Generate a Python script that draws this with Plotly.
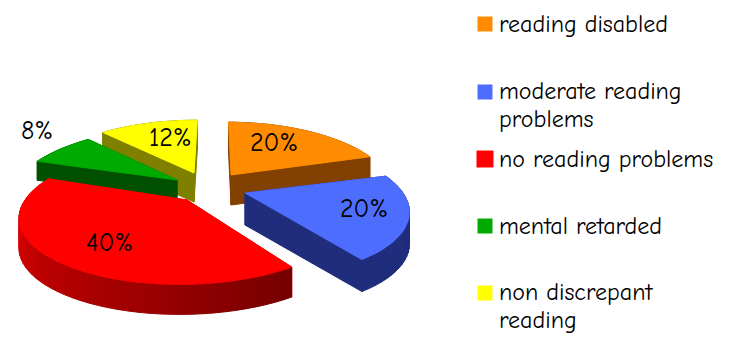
import math
import plotly.graph_objects as go

# ---- data ----
categories = ["reading disabled", "moderate reading<br>problems", "no reading problems",
              "mental retarded", "non discrepant<br>reading"]
values = [20, 20, 40, 8, 12]
labels = ["20%", "20%", "40%", "8%", "12%"]

# ---- styles ----
top_colors = ["#ff8c00", "#4d6dff", "#ff0000", "#00aa00", "#ffff00"]
edge_colors = ["#824100", "#1f2d7c", "#e00000", "#005000", "#808000"]   # radial wall
arc_far = ["#824100", "#1f2d7c", "#760000", "#005000", "#808000"]       # arc wall at the slice's start
arc_near = ["#824100", "#1f2d7c", "#f40000", "#005000", "#808000"]      # arc wall at the slice's end
apex_x = [231, 245, 187, 177, 194]
apex_y = [175, 193, 200, 180, 173]
depths = [30, 32, 30, 19, 29]
radius_x = [157, 158, 162, 160, 160]
slice_rot = [0.5, 2.0, 2.5, 0.0, 0.0]
label_x = [274, 364, 109, 37, 170]
label_y = [143, 209, 243, 131, 138]
legend_y = [24, 92, 159, 226, 293]
legend_text_y = [26, 93, 161, 228, 294]
legend_size = [15, 15, 17, 15, 15]
draw_order = [0, 4, 3, 2, 1]
LINE_GAP = 28

FONT = "Comic Sans MS, Comic Neue, DejaVu Sans"
B, K, VX = 65.0, 0.23, 212.0


def project(theta_deg, ax, ay, a):
    t = math.radians(theta_deg)
    X, Y = math.sin(t), math.cos(t)
    w = 1 + K * Y
    return ax + a * X / w + (VX - ax) * (1 - 1 / w), ay - B * Y / w


def hex_mix(c1, c2, f):
    a = [int(c1[i:i + 2], 16) for i in (1, 3, 5)]
    b = [int(c2[i:i + 2], 16) for i in (1, 3, 5)]
    return "#%02x%02x%02x" % tuple(round(p + (q - p) * f) for p, q in zip(a, b))


def poly(xs, ys, color):
    return go.Scatter(x=xs + xs[:1], y=ys + ys[:1], mode="lines", fill="toself",
                      fillcolor=color, line=dict(color=color, width=1),
                      hoverinfo="skip", showlegend=False)


total = sum(values)
starts, acc = [], 0.0
for v in values:
    starts.append(acc)
    acc += v / total * 360

fig = go.Figure()
for i in draw_order:
    a0 = starts[i] + slice_rot[i]
    a1 = a0 + values[i] / total * 360
    ax, ay, d = apex_x[i], apex_y[i], depths[i]
    n = max(4, int((a1 - a0) / 3))
    arc = [project(a0 + (a1 - a0) * k / n, ax, ay, radius_x[i]) for k in range(n + 1)]

    # walls: radial edges first, then the outer arc strip by strip
    for p, q in (((ax, ay), arc[0]), (arc[-1], (ax, ay))):
        fig.add_trace(poly([p[0], q[0], q[0], p[0]], [p[1], q[1], q[1] + d, p[1] + d], edge_colors[i]))
    for k in range(n):
        p, q = arc[k], arc[k + 1]
        fig.add_trace(poly([p[0], q[0], q[0], p[0]], [p[1], q[1], q[1] + d, p[1] + d],
                           hex_mix(arc_far[i], arc_near[i], k / max(1, n - 1))))
    # top face
    fig.add_trace(poly([ax] + [p[0] for p in arc], [ay] + [p[1] for p in arc], top_colors[i]))

# legend swatches and texts
for i in range(len(categories)):
    fig.add_trace(go.Scatter(x=[485], y=[legend_y[i]], mode="markers",
                             marker=dict(symbol="square", size=legend_size[i], color=top_colors[i]),
                             hoverinfo="skip", showlegend=False))
    for j, line in enumerate(categories[i].split("<br>")):
        fig.add_trace(go.Scatter(x=[499], y=[legend_text_y[i] + j * LINE_GAP], mode="text", text=[line],
                                 textposition="middle right", hoverinfo="skip", showlegend=False,
                                 textfont=dict(family=FONT, size=24, color="#000000")))
    fig.add_annotation(x=label_x[i], y=label_y[i], text=labels[i], showarrow=False,
                       font=dict(family=FONT, size=26, color="#000000"))

fig.update_layout(width=740, height=339, margin=dict(l=0, r=0, t=0, b=0),
                  paper_bgcolor="white", plot_bgcolor="white",
                  xaxis=dict(range=[0, 740], visible=False, fixedrange=True),
                  yaxis=dict(range=[339, 0], visible=False, fixedrange=True))
fig.write_html("out.html", config={"displayModeBar": False},
               post_script="document.body.style.margin='0';")
